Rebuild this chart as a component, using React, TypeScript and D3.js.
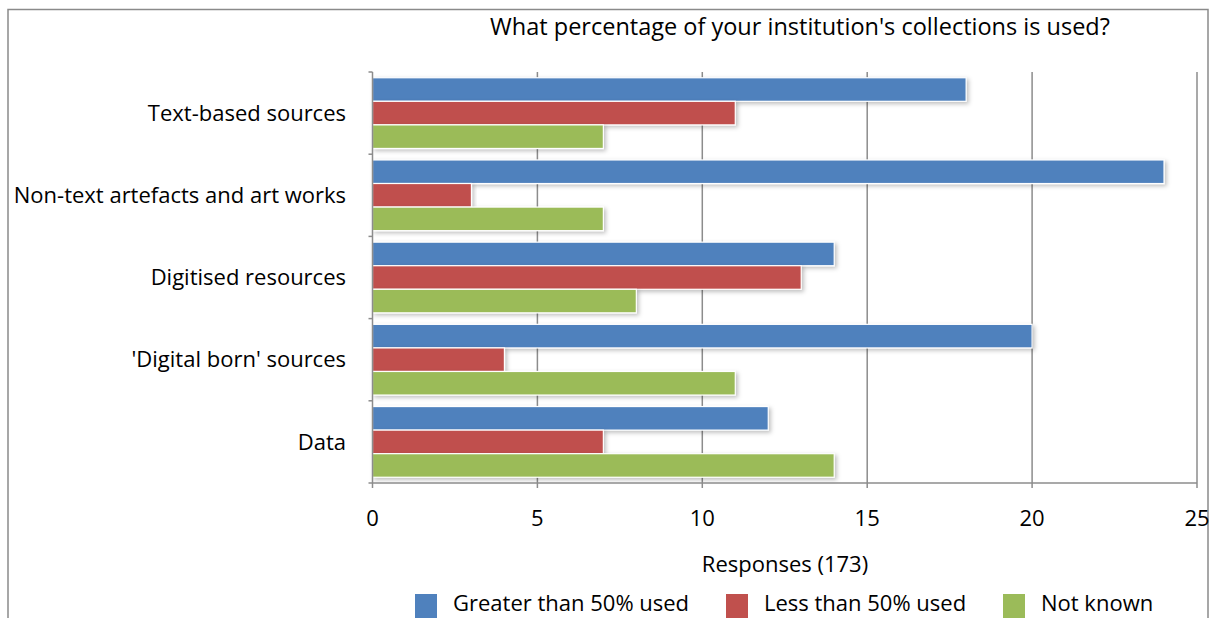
import { useEffect, useRef } from 'react';
import * as d3 from 'd3';

const categories = [
  'Text-based sources',
  'Non-text artefacts and art works',
  'Digitised resources',
  "'Digital born' sources",
  'Data',
];
const seriesNames = ['Greater than 50% used', 'Less than 50% used', 'Not known'];
const greaterThan50 = [18, 24, 14, 20, 12];
const lessThan50 = [11, 3, 13, 4, 7];
const notKnown = [7, 7, 8, 11, 14];
const xTicks = [0, 5, 10, 15, 20, 25];
const colors = ['#4F81BD', '#C0504D', '#9BBB59'];

const W = 1212;
const H = 618;
const FONT = '"Open Sans", Lato, sans-serif';

export default function App() {
  const svgRef = useRef<SVGSVGElement>(null);

  useEffect(() => {
    const svg = d3.select(svgRef.current);
    svg.selectAll('*').remove();

    const left = 372.5;
    const right = 1197;
    const top = 72;
    const bottom = 483;
    const values = [greaterThan50, lessThan50, notKnown];

    const x = d3.scaleLinear().domain([0, 25]).range([left, right]);
    const y = d3.scaleBand<string>().domain(categories).range([top, bottom]).paddingInner(0.14).paddingOuter(0.07);
    const sub = d3.scaleBand<number>().domain([0, 1, 2]).range([0, y.bandwidth()]).padding(0);

    const defs = svg.append('defs');
    const f = defs.append('filter').attr('id', 'shadow').attr('x', '-5%').attr('y', '-30%').attr('width', '110%').attr('height', '160%');
    f.append('feDropShadow').attr('dx', 2).attr('dy', 2).attr('stdDeviation', 2).attr('flood-color', '#000').attr('flood-opacity', 0.25);

    // frame
    svg.append('rect')
      .attr('x', 8).attr('y', 9.5).attr('width', 1200).attr('height', 640)
      .attr('fill', '#fff').attr('stroke', '#8a8a8a').attr('stroke-width', 1.5);

    // title
    svg.append('text')
      .attr('x', 800).attr('y', 27).attr('dy', '0.35em')
      .attr('text-anchor', 'middle').attr('font-family', FONT).attr('font-size', 23.5)
      .text("What percentage of your institution's collections is used?");

    // gridlines
    svg.append('g').selectAll('line').data(xTicks.slice(1)).join('line')
      .attr('x1', (d) => x(d)).attr('x2', (d) => x(d))
      .attr('y1', top).attr('y2', bottom)
      .attr('stroke', '#8c8c8c').attr('stroke-width', 1.5);

    // bars
    const groups = svg.append('g').selectAll('g').data(categories).join('g')
      .attr('transform', (c) => `translate(0,${y(c)})`);
    groups.selectAll('rect')
      .data((_c, i) => values.map((v, s) => ({ s, v: v[i] })))
      .join('rect')
      .attr('x', x(0))
      .attr('y', (d) => sub(d.s)!)
      .attr('width', (d) => x(d.v) - x(0))
      .attr('height', sub.bandwidth())
      .attr('fill', (d) => colors[d.s])
      .attr('stroke', '#fff').attr('stroke-width', 1.2)
      .attr('filter', 'url(#shadow)');

    // y axis
    const yAxis = svg.append('g');
    yAxis.append('line').attr('x1', left).attr('x2', left).attr('y1', top).attr('y2', bottom)
      .attr('stroke', '#8c8c8c').attr('stroke-width', 1.5);
    const yBounds = d3.range(categories.length + 1).map((i) => top + (i * (bottom - top)) / categories.length);
    yAxis.selectAll('line.t').data(yBounds).join('line').attr('class', 't')
      .attr('x1', left - 4).attr('x2', left).attr('y1', (d) => d).attr('y2', (d) => d)
      .attr('stroke', '#8c8c8c').attr('stroke-width', 1.5);
    yAxis.selectAll('text').data(categories).join('text')
      .attr('x', 346).attr('y', (c) => y(c)! + y.bandwidth() / 2).attr('dy', '0.35em')
      .attr('text-anchor', 'end').attr('font-family', FONT).attr('font-size', 22)
      .text((c) => c);

    // x axis
    const xAxis = svg.append('g');
    xAxis.append('line').attr('x1', left).attr('x2', right).attr('y1', bottom).attr('y2', bottom)
      .attr('stroke', '#8c8c8c').attr('stroke-width', 1.5);
    xAxis.selectAll('line.t').data(xTicks).join('line').attr('class', 't')
      .attr('x1', (d) => x(d)).attr('x2', (d) => x(d)).attr('y1', bottom).attr('y2', bottom + 5)
      .attr('stroke', '#8c8c8c').attr('stroke-width', 1.5);
    xAxis.selectAll('text').data(xTicks).join('text')
      .attr('x', (d) => x(d)).attr('y', 518).attr('dy', '0.35em')
      .attr('text-anchor', 'middle').attr('font-family', FONT).attr('font-size', 22)
      .text((d) => d);
    svg.append('text')
      .attr('x', 785).attr('y', 564).attr('dy', '0.35em')
      .attr('text-anchor', 'middle').attr('font-family', FONT).attr('font-size', 22)
      .text('Responses (173)');

    // legend
    const legendX = [415, 726, 1003];
    const lg = svg.append('g').selectAll('g').data(seriesNames).join('g')
      .attr('transform', (_d, i) => `translate(${legendX[i]},594)`);
    lg.append('rect').attr('width', 22).attr('height', 24).attr('fill', (_d, i) => colors[i]);
    lg.append('text').attr('x', 38).attr('y', 9).attr('dy', '0.35em')
      .attr('font-family', FONT).attr('font-size', 22)
      .text((d) => d);
  }, []);

  return (
    <svg
      ref={svgRef}
      width={W}
      height={H}
      viewBox={`0 0 ${W} ${H}`}
      style={{ position: 'absolute', left: 0, top: 0, background: '#fff' }}
    />
  );
}
